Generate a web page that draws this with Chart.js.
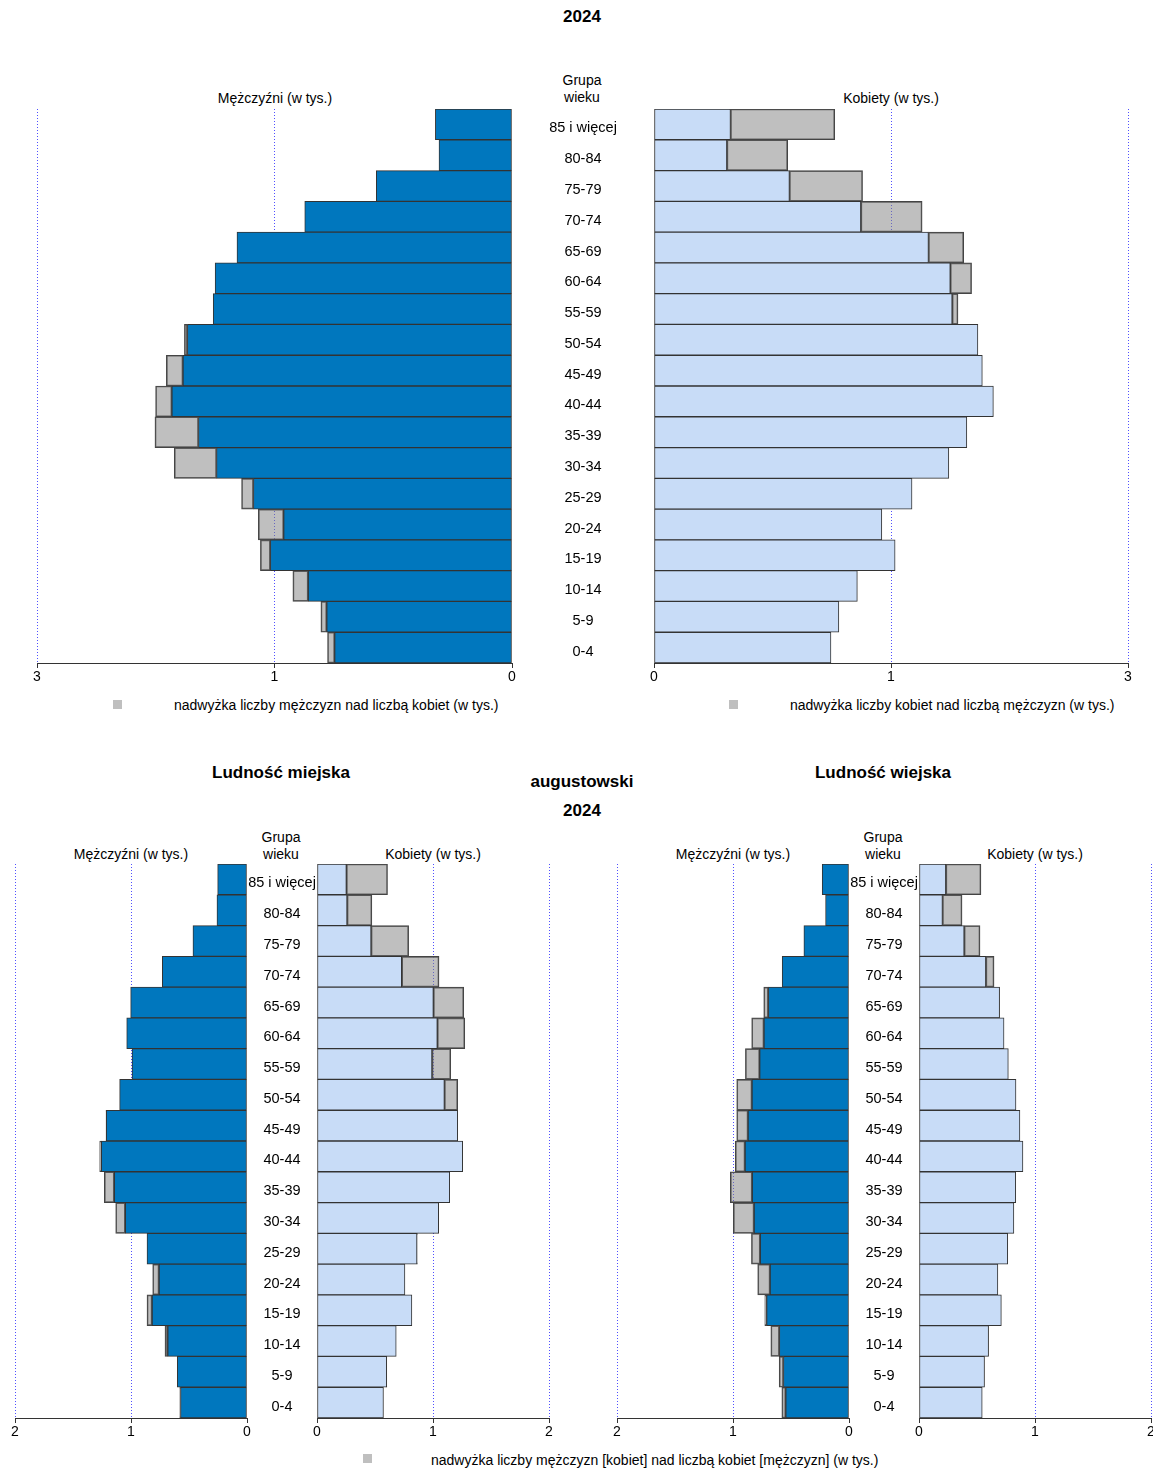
<!DOCTYPE html>
<html lang="pl">
<head>
<meta charset="utf-8">
<title>Piramida wieku - augustowski 2024</title>
<script src="https://cdn.jsdelivr.net/npm/chart.js@4.4.1/dist/chart.umd.min.js"></script>
<style>
  body { margin: 0; background: #fff; overflow: hidden; font-family: "Liberation Sans", Arial, sans-serif; color: #000; }
  #page { position: relative; width: 1153px; height: 1469px; }
  #page canvas { position: absolute; }
  .t { position: absolute; font-size: 14px; line-height: 1; white-space: nowrap; transform: translate(-50%, -50%); }
  .b { font-weight: bold; font-size: 17px; }
  .l { transform: translate(0, -50%); }
  .sq { position: absolute; width: 9px; height: 9px; background: #bfbfbf; }
</style>
</head>
<body>
<div id="page">
  <div class="t b" style="left:582px;top:16px">2024</div>
  <div class="t" style="left:582px;top:80px">Grupa</div>
  <div class="t" style="left:582px;top:97px">wieku</div>
  <div class="t" style="left:275px;top:98px">Mężczyźni (w tys.)</div>
  <div class="t" style="left:891px;top:98px">Kobiety (w tys.)</div>
  <div class="sq" style="left:113px;top:700px"></div>
  <div class="t l" style="left:174px;top:705px">nadwyżka liczby mężczyzn nad liczbą kobiet (w tys.)</div>
  <div class="sq" style="left:729px;top:700px"></div>
  <div class="t l" style="left:790px;top:705px">nadwyżka liczby kobiet nad liczbą mężczyzn (w tys.)</div>

  <div class="t b" style="left:281px;top:772px">Ludność miejska</div>
  <div class="t b" style="left:883px;top:772px">Ludność wiejska</div>
  <div class="t b" style="left:582px;top:781px">augustowski</div>
  <div class="t b" style="left:582px;top:810px">2024</div>
  <div class="t" style="left:281px;top:837px">Grupa</div>
  <div class="t" style="left:281px;top:854px">wieku</div>
  <div class="t" style="left:883px;top:837px">Grupa</div>
  <div class="t" style="left:883px;top:854px">wieku</div>
  <div class="t" style="left:131px;top:854px">Mężczyźni (w tys.)</div>
  <div class="t" style="left:433px;top:854px">Kobiety (w tys.)</div>
  <div class="t" style="left:733px;top:854px">Mężczyźni (w tys.)</div>
  <div class="t" style="left:1035px;top:854px">Kobiety (w tys.)</div>
  <div class="sq" style="left:363px;top:1454px"></div>
  <div class="t l" style="left:431px;top:1460px">nadwyżka liczby mężczyzn [kobiet] nad liczbą kobiet [mężczyzn] (w tys.)</div>
</div>
<script>
// grupy wieku, od najstarszej (góra) do najmłodszej
const ageGroups = ['85 i więcej', '80-84', '75-79', '70-74', '65-69', '60-64', '55-59', '50-54', '45-49',
                   '40-44', '35-39', '30-34', '25-29', '20-24', '15-19', '10-14', '5-9', '0-4'];

// ogółem (w tys.)
const menTotal   = [0.484, 0.461, 0.857, 1.309, 1.737, 1.875, 1.887, 2.069, 2.183, 2.251, 2.255, 2.133, 1.708, 1.602, 1.589, 1.384, 1.207, 1.165];
const womenTotal = [1.144, 0.846, 1.320, 1.697, 1.960, 2.010, 1.924, 2.050, 2.078, 2.148, 1.980, 1.866, 1.633, 1.442, 1.526, 1.287, 1.170, 1.120];

// ludność miejska (w tys.)
const menUrban   = [0.253, 0.259, 0.466, 0.730, 1.003, 1.037, 0.991, 1.098, 1.216, 1.270, 1.230, 1.132, 0.862, 0.813, 0.862, 0.707, 0.601, 0.580];
const womenUrban = [0.608, 0.473, 0.790, 1.052, 1.265, 1.274, 1.153, 1.213, 1.213, 1.256, 1.144, 1.049, 0.865, 0.758, 0.818, 0.683, 0.602, 0.573];

// ludność wiejska (w tys.)
const menRural   = [0.231, 0.202, 0.389, 0.576, 0.735, 0.839, 0.893, 0.968, 0.968, 0.980, 1.023, 0.997, 0.841, 0.787, 0.726, 0.674, 0.602, 0.579];
const womenRural = [0.534, 0.371, 0.526, 0.647, 0.695, 0.733, 0.770, 0.836, 0.870, 0.896, 0.834, 0.818, 0.765, 0.680, 0.710, 0.600, 0.565, 0.545];

// opisy osi, tak jak są wydrukowane (górna oś ma podziałkę 0 / 1,5 / 3)
const topTickValues = [0, 1.5, 3];
const topTickLabels = ['0', '1', '3'];
const bottomTickValues = [0, 1, 2];
const bottomTickLabels = ['0', '1', '2'];

const FONT = '"Liberation Sans", Arial, sans-serif';
const AGE_FONT_SIZE = 14.5;
const page = document.getElementById('page');

function measureWidest(font) {
    const c = document.createElement('canvas').getContext('2d');
    c.font = font;
    return Math.max.apply(null, ageGroups.map(function(s) { return c.measureText(s).width; }));
}

// jedna połowa piramidy: side = 'men' albo 'women'
function half(side, box, own, other, tickValues, tickLabels, gap) {
    const isMen = side === 'men';
    const padL = isMen ? 20 : 0;
    const yW = isMen ? 0 : gap;
    const cv = document.createElement('canvas');
    cv.width = (box.x1 - box.x0) + padL + yW + 20;
    cv.height = (box.y1 - box.y0) + 10 + 30;
    cv.style.left = (box.x0 - padL - yW) + 'px';
    cv.style.top = (box.y0 - 10) + 'px';
    page.appendChild(cv);

    const base = own.map(function(v, i) { return Math.min(v, other[i]); });
    const extra = own.map(function(v, i) { return v > other[i] ? v - other[i] : null; });
    const labelPad = isMen ? 0 : Math.max(0, (gap - measureWidest(AGE_FONT_SIZE + 'px ' + FONT)) / 2);

    const yScale = isMen ? { stacked: true, display: false } : {
        stacked: true,
        grid: { display: false, drawTicks: false },
        border: { display: false },
        afterFit: function(scale) {
            scale.width = gap;
            scale.paddingTop = 0;
            scale.paddingBottom = 0;
        },
        ticks: {
            crossAlign: 'center',
            padding: labelPad,
            labelOffset: 4,
            color: '#000',
            autoSkip: false,
            font: { size: AGE_FONT_SIZE, family: FONT }
        }
    };

    new Chart(cv, {
        type: 'bar',
        data: {
            labels: ageGroups,
            datasets: [{
                data: base,
                backgroundColor: isMen ? '#0077be' : '#c8dcf7',
                borderColor: '#333',
                borderWidth: 1,
                borderSkipped: false
            }, {
                data: extra,
                backgroundColor: 'rgba(128,128,128,0.5)',
                borderColor: '#444',
                borderWidth: 1,
                borderSkipped: false
            }]
        },
        options: {
            indexAxis: 'y',
            responsive: false,
            animation: false,
            events: [],
            layout: { padding: { left: padL, right: 20, top: 10, bottom: 0 } },
            datasets: { bar: { categoryPercentage: 1, barPercentage: 1 } },
            plugins: { legend: { display: false }, tooltip: { enabled: false } },
            scales: {
                x: {
                    stacked: true,
                    reverse: isMen,
                    min: 0,
                    max: tickValues[tickValues.length - 1],
                    afterBuildTicks: function(scale) {
                        scale.ticks = tickValues.map(function(v) { return { value: v }; });
                    },
                    afterFit: function(scale) { scale.height = 30; },
                    grid: {
                        color: function(ctx) { return ctx.tick && ctx.tick.value === 0 ? 'rgba(0,0,0,0)' : '#5050ff'; },
                        tickColor: '#333',
                        tickLength: 5
                    },
                    border: { color: '#333', dash: [1, 2] },
                    ticks: {
                        color: '#000',
                        padding: 1,
                        maxRotation: 0,
                        font: { size: 14, family: FONT },
                        callback: function(v, i) { return tickLabels[i]; }
                    }
                },
                y: yScale
            }
        }
    });
}

// ogółem
half('men',   { x0: 37,  x1: 512,  y0: 109, y1: 663 }, menTotal, womenTotal, topTickValues, topTickLabels, 142);
half('women', { x0: 654, x1: 1128, y0: 109, y1: 663 }, womenTotal, menTotal, topTickValues, topTickLabels, 142);
// miasto
half('men',   { x0: 15,  x1: 247,  y0: 864, y1: 1418 }, menUrban, womenUrban, bottomTickValues, bottomTickLabels, 70);
half('women', { x0: 317, x1: 549,  y0: 864, y1: 1418 }, womenUrban, menUrban, bottomTickValues, bottomTickLabels, 70);
// wieś
half('men',   { x0: 617, x1: 849,  y0: 864, y1: 1418 }, menRural, womenRural, bottomTickValues, bottomTickLabels, 70);
half('women', { x0: 919, x1: 1151, y0: 864, y1: 1418 }, womenRural, menRural, bottomTickValues, bottomTickLabels, 70);
</script>
</body>
</html>
